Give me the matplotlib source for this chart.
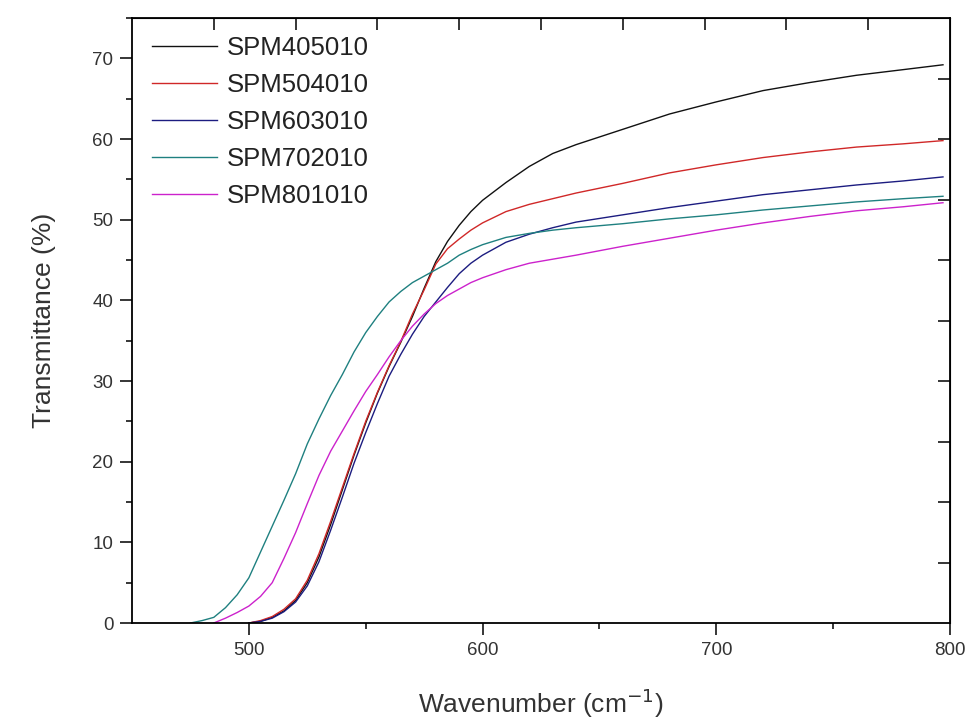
import numpy as np
import matplotlib.pyplot as plt
from matplotlib.ticker import MultipleLocator, FixedLocator

plt.rcParams['font.family'] = ['Liberation Sans', 'DejaVu Sans']

# wavenumber grid (cm^-1)
wn = [470, 475, 480, 485, 490, 495, 500, 505, 510, 515, 520, 525, 530, 535,
      540, 545, 550, 555, 560, 565, 570, 575, 580, 585, 590, 595, 600, 610,
      620, 630, 640, 660, 680, 700, 720, 740, 760, 780, 797]

nan = np.nan
spm405010 = [nan, nan, nan, nan, nan, nan, 0.0, 0.2, 0.7, 1.5, 2.8, 5.0, 8.2, 12.2,
             16.5, 20.8, 24.8, 28.5, 31.8, 34.8, 38.0, 41.5, 44.8, 47.3, 49.3, 51.0, 52.4, 54.6,
             56.6, 58.2, 59.3, 61.2, 63.1, 64.6, 66.0, 67.0, 67.9, 68.6, 69.2]
spm504010 = [nan, nan, nan, nan, nan, nan, 0.0, 0.3, 0.8, 1.7, 3.0, 5.3, 8.6, 12.6,
             16.8, 21.0, 25.0, 28.6, 31.9, 34.9, 38.3, 41.3, 44.5, 46.4, 47.6, 48.7, 49.6, 51.0,
             51.9, 52.6, 53.3, 54.5, 55.8, 56.8, 57.7, 58.4, 59.0, 59.4, 59.8]
spm603010 = [nan, nan, nan, nan, nan, nan, 0.0, 0.2, 0.6, 1.4, 2.6, 4.6, 7.6, 11.5,
             15.6, 19.8, 23.6, 27.2, 30.6, 33.3, 35.8, 38.0, 39.8, 41.6, 43.3, 44.6, 45.6, 47.2,
             48.2, 49.0, 49.7, 50.6, 51.5, 52.3, 53.1, 53.7, 54.3, 54.8, 55.3]
spm702010 = [nan, 0.0, 0.3, 0.7, 1.9, 3.5, 5.6, 8.8, 12.0, 15.2, 18.5, 22.2, 25.3, 28.2,
             30.8, 33.6, 36.0, 38.0, 39.8, 41.1, 42.2, 43.0, 43.8, 44.6, 45.6, 46.3, 46.9, 47.8,
             48.3, 48.7, 49.0, 49.5, 50.1, 50.6, 51.2, 51.7, 52.2, 52.6, 52.9]
spm801010 = [nan, nan, nan, 0.0, 0.6, 1.3, 2.1, 3.3, 5.0, 8.0, 11.2, 14.8, 18.3, 21.3,
             23.8, 26.3, 28.7, 30.8, 33.0, 35.0, 36.8, 38.3, 39.6, 40.6, 41.4, 42.2, 42.8, 43.8,
             44.6, 45.1, 45.6, 46.7, 47.7, 48.7, 49.6, 50.4, 51.1, 51.6, 52.1]

names = ["SPM405010", "SPM504010", "SPM603010", "SPM702010", "SPM801010"]
series = [spm405010, spm504010, spm603010, spm702010, spm801010]
colors = ["#111111", "#d02828", "#1c1c80", "#1f8080", "#cc22cc"]

fig = plt.figure(figsize=(9.73, 7.22), dpi=100)
ax = fig.add_axes([132/973, 99/722, 818/973, 605/722])

for name, y, c in zip(names, series, colors):
    ax.plot(wn, y, color=c, lw=1.0, label=name)

ax.set_xlim(450, 800)
ax.set_ylim(0, 75)
ax.xaxis.set_major_locator(MultipleLocator(100))
ax.xaxis.set_minor_locator(FixedLocator([550, 650, 750]))
ax.yaxis.set_major_locator(MultipleLocator(10))
ax.yaxis.set_minor_locator(MultipleLocator(5))
ax.tick_params(which='major', direction='out', length=8.5, width=1.1,
               labelsize=13.5, labelcolor='#333333', pad=5)
ax.tick_params(which='minor', direction='out', length=4, width=1.1)
for s in ax.spines.values():
    s.set_linewidth(1.3)

# unlabelled top and right axes, ten divisions each
top = ax.secondary_xaxis('top')
top.set_xticks([450 + 35 * k for k in range(1, 10)])
top.tick_params(direction='in', length=8.5, width=1.1, labeltop=False)
right = ax.secondary_yaxis('right')
right.set_yticks([7.5 * k for k in range(1, 10)])
right.tick_params(direction='in', length=8.5, width=1.1, labelright=False)

ax.set_xlabel("Wavenumber (cm$^{-1}$)", fontsize=19, color='#333333', labelpad=20)
ax.set_ylabel("Transmittance (%)", fontsize=19, color='#333333', labelpad=26)

ax.legend(loc='upper left', bbox_to_anchor=(0.025, 0.97), frameon=False,
          fontsize=18.5, handlelength=2.5, handletextpad=0.4, labelspacing=0.5,
          borderpad=0, borderaxespad=0, labelcolor='#222222')

fig.savefig("out.png", dpi=100)
